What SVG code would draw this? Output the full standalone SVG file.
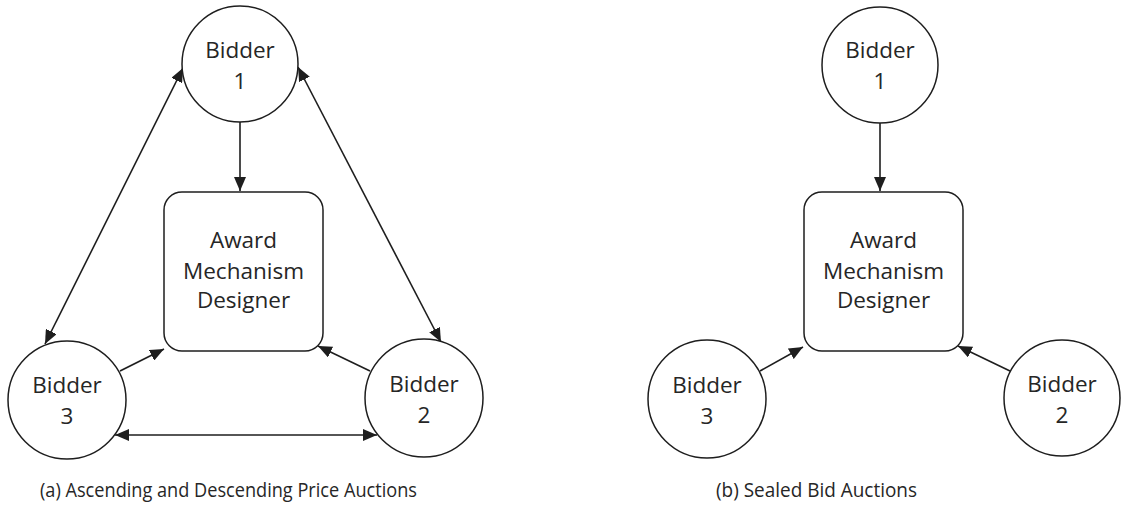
<svg xmlns="http://www.w3.org/2000/svg" width="1121" height="517" viewBox="0 0 1121 517">
<style>
.node{fill:#ffffff;stroke:#1e1e1e;stroke-width:1.5}
.lbl{font-family:"Open Sans","Liberation Sans",sans-serif;font-size:22.5px;fill:#262626;text-anchor:middle}
.cap{font-family:"Open Sans","Liberation Sans",sans-serif;font-size:20px;fill:#262626}
.edge{stroke:#1e1e1e;stroke-width:1.6;fill:none}
</style>
<defs>
<marker id="ah" markerUnits="userSpaceOnUse" markerWidth="15" markerHeight="12" refX="14" refY="6" orient="auto-start-reverse">
<path d="M0,0 L14,6 L0,12 z" fill="#1e1e1e"/>
</marker>
</defs>
<rect width="1121" height="517" fill="#ffffff"/>
<g id="connectors">
<line class="edge" x1="240" y1="122" x2="240" y2="191" marker-end="url(#ah)"/>
<line class="edge" x1="183" y1="68" x2="45" y2="344" marker-start="url(#ah)" marker-end="url(#ah)"/>
<line class="edge" x1="298" y1="67" x2="441" y2="342" marker-start="url(#ah)" marker-end="url(#ah)"/>
<line class="edge" x1="120" y1="371" x2="164" y2="349" marker-end="url(#ah)"/>
<line class="edge" x1="370" y1="371" x2="318" y2="346" marker-end="url(#ah)"/>
<line class="edge" x1="115" y1="435" x2="377" y2="435" marker-start="url(#ah)" marker-end="url(#ah)"/>
<line class="edge" x1="880" y1="123" x2="880" y2="191" marker-end="url(#ah)"/>
<line class="edge" x1="760" y1="371" x2="803" y2="347" marker-end="url(#ah)"/>
<line class="edge" x1="1010" y1="371" x2="958" y2="346" marker-end="url(#ah)"/>
</g>
<g id="a-bidder1"><circle class="node" cx="240" cy="64" r="58"/><text class="lbl" x="240" y="58">Bidder</text><text class="lbl" x="240" y="89">1</text></g>
<g id="a-designer"><rect class="node" x="164" y="192" width="159" height="159" rx="18"/><text class="lbl" x="243.5" y="248">Award</text><text class="lbl" x="243.5" y="279">Mechanism</text><text class="lbl" x="243.5" y="308">Designer</text></g>
<g id="a-bidder3"><circle class="node" cx="67" cy="400" r="59"/><text class="lbl" x="67" y="393">Bidder</text><text class="lbl" x="67" y="424">3</text></g>
<g id="a-bidder2"><circle class="node" cx="424" cy="398" r="59"/><text class="lbl" x="424" y="392">Bidder</text><text class="lbl" x="424" y="423">2</text></g>
<g id="b-bidder1"><circle class="node" cx="880" cy="65" r="58"/><text class="lbl" x="880" y="58">Bidder</text><text class="lbl" x="880" y="89">1</text></g>
<g id="b-designer"><rect class="node" x="804" y="192" width="159" height="159" rx="18"/><text class="lbl" x="883.5" y="248">Award</text><text class="lbl" x="883.5" y="279">Mechanism</text><text class="lbl" x="883.5" y="308">Designer</text></g>
<g id="b-bidder3"><circle class="node" cx="707" cy="399" r="59"/><text class="lbl" x="707" y="393">Bidder</text><text class="lbl" x="707" y="424">3</text></g>
<g id="b-bidder2"><circle class="node" cx="1062" cy="398" r="58"/><text class="lbl" x="1062" y="392">Bidder</text><text class="lbl" x="1062" y="423">2</text></g>
<g id="captions">
<text class="cap" x="40" y="497" textLength="377" lengthAdjust="spacingAndGlyphs">(a) Ascending and Descending Price Auctions</text>
<text class="cap" x="716" y="497" textLength="201" lengthAdjust="spacingAndGlyphs">(b) Sealed Bid Auctions</text>
</g>
</svg>
